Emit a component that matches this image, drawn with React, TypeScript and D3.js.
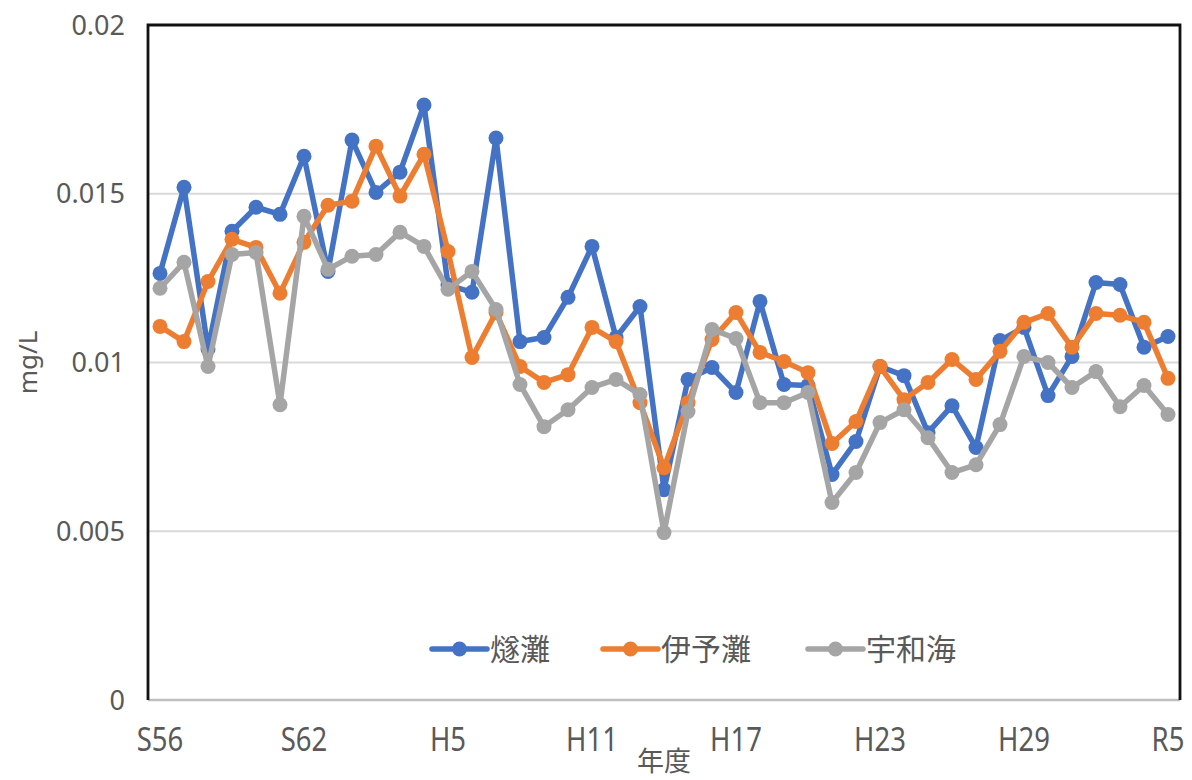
import React from "react";
import * as d3 from "d3";

const categories: string[] = [
  "S56","S57","S58","S59","S60","S61","S62","S63",
  "H1","H2","H3","H4","H5","H6","H7","H8","H9","H10","H11","H12","H13","H14","H15","H16","H17","H18","H19","H20","H21","H22","H23","H24","H25","H26","H27","H28","H29","H30",
  "R1","R2","R3","R4","R5",
];
const shownTicks: string[] = ["S56","S62","H5","H11","H17","H23","H29","R5"];
const yTicks: number[] = [0, 0.005, 0.01, 0.015, 0.02];

const hiuchi: number[] = [
  0.01264,0.01519,0.0104,0.01389,0.0146,0.01439,0.01611,0.0127,0.01659,0.01504,
  0.01564,0.01763,0.0123,0.01208,0.01665,0.01062,0.01074,0.01193,0.01344,0.01074,
  0.01166,0.00623,0.0095,0.00985,0.00911,0.01181,0.00935,0.00932,0.00668,0.00766,
  0.00988,0.00961,0.00792,0.00872,0.00748,0.01065,0.01104,0.00902,0.01018,0.01237,
  0.01231,0.01045,0.01077,
];
const iyo: number[] = [
  0.01107,0.01062,0.0124,0.01365,0.01341,0.01205,0.01356,0.01466,0.01478,0.01641,
  0.01493,0.01617,0.01329,0.01015,0.01148,0.00988,0.00941,0.00964,0.01104,0.01062,
  0.00881,0.00688,0.00881,0.01068,0.01148,0.0103,0.01003,0.0097,0.0076,0.00825,
  0.00988,0.0089,0.00941,0.01009,0.0095,0.01033,0.01119,0.01145,0.01045,0.01145,
  0.0114,0.01119,0.00953,
];
const uwa: number[] = [
  0.0122,0.01297,0.00988,0.0132,0.01326,0.00875,0.01433,0.01276,0.01315,0.0132,
  0.01386,0.01344,0.01217,0.0127,0.01157,0.00935,0.0081,0.0086,0.00926,0.0095,
  0.00905,0.00496,0.00855,0.01098,0.01071,0.00881,0.00881,0.00911,0.00585,0.00674,
  0.00822,0.0086,0.00777,0.00674,0.00697,0.00816,0.01018,0.01,0.00926,0.00973,
  0.00869,0.00932,0.00846,
];

const seriesNames: string[] = ["燧灘", "伊予灘", "宇和海"];
const seriesColors: string[] = ["#4472C4", "#ED7D31", "#A5A5A5"];
const seriesData: number[][] = [hiuchi, iyo, uwa];

const W = 1192;
const H = 780;
const L = 148, R = 1180, T = 25, B = 700;
const TEXT = "#595959";

export default function App() {
  const x = d3.scaleBand<string>().domain(categories).range([L, R]);
  const cx = (c: string) => (x(c) as number) + x.bandwidth() / 2;
  const y = d3.scaleLinear().domain([0, 0.02]).range([B, T]);
  const line = d3
    .line<number>()
    .x((_, i) => cx(categories[i]))
    .y((d) => y(d));

  const legendItems = [
    { lx: 432, tx: 490 },
    { lx: 603, tx: 661 },
    { lx: 808, tx: 866 },
  ];
  const legendY = 649;

  return (
    <svg
      width={W}
      height={H}
      style={{ position: "absolute", left: 0, top: 0, background: "#fff" }}
      fontFamily="'Noto Sans CJK JP', 'Noto Sans', sans-serif"
    >
      <rect x={0} y={0} width={W} height={H} fill="#fff" />
      {yTicks.map((t) => (
        <line key={t} x1={L} x2={R} y1={y(t)} y2={y(t)} stroke="#D9D9D9" strokeWidth={2} />
      ))}
      <line x1={L} x2={R} y1={B} y2={B} stroke="#BFBFBF" strokeWidth={2.5} />
      <path d={`M${L},${B} L${L},${T} L${R},${T} L${R},${B}`} fill="none" stroke="#111" strokeWidth={2.8} />
      {yTicks.map((t) => (
        <text
          key={"yl" + t}
          x={125}
          y={y(t)}
          dy="0.36em"
          textAnchor="end"
          fontSize={27}
          fill={TEXT}
          fontFamily="'Noto Sans', sans-serif"
        >
          {t === 0 ? "0" : String(t)}
        </text>
      ))}
      {shownTicks.map((c) => (
        <text
          key={"xl" + c}
          transform={`translate(${cx(c)},${751}) scale(0.86,1)`}
          textAnchor="middle"
          fontSize={32}
          fill={TEXT}
          fontFamily="'Noto Sans', sans-serif"
        >
          {c}
        </text>
      ))}
      <text x={(L + R) / 2} y={771} textAnchor="middle" fontSize={27} fill={TEXT}>
        年度
      </text>
      <text
        transform={`translate(37,${(T + B) / 2}) rotate(-90)`}
        textAnchor="middle"
        fontSize={26}
        fill={TEXT}
        fontFamily="'Noto Sans', sans-serif"
      >
        mg/L
      </text>
      {seriesData.map((data, si) => (
        <g key={"s" + si}>
          <path d={line(data) || ""} fill="none" stroke={seriesColors[si]} strokeWidth={5.5} strokeLinejoin="round" />
          {data.map((d, i) => (
            <circle key={i} cx={cx(categories[i])} cy={y(d)} r={7.5} fill={seriesColors[si]} />
          ))}
        </g>
      ))}
      {seriesNames.map((n, si) => (
        <g key={"lg" + si}>
          <line
            x1={legendItems[si].lx}
            x2={legendItems[si].lx + 55}
            y1={legendY}
            y2={legendY}
            stroke={seriesColors[si]}
            strokeWidth={5.5}
            strokeLinecap="round"
          />
          <circle cx={legendItems[si].lx + 27.5} cy={legendY} r={7.5} fill={seriesColors[si]} />
          <text x={legendItems[si].tx} y={legendY} dy="0.36em" fontSize={30} fill={TEXT}>
            {n}
          </text>
        </g>
      ))}
    </svg>
  );
}
